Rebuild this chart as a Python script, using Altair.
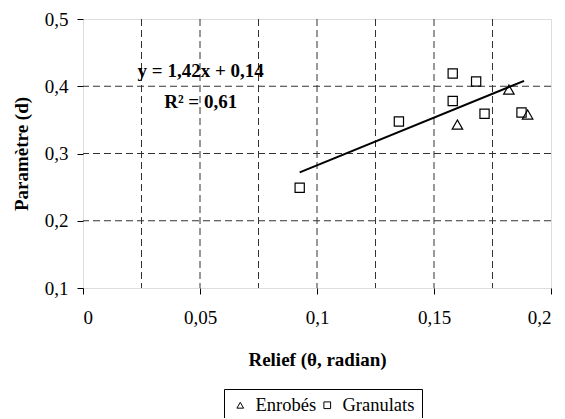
import altair as alt
import pandas as pd

# ---- data ----
series_names = ["Enrobés", "Granulats"]
enrobes_x = [0.160, 0.182, 0.190]
enrobes_y = [0.343, 0.395, 0.358]
gran_x = [0.0926, 0.135, 0.158, 0.158, 0.168, 0.1716, 0.1874]
gran_y = [0.249, 0.3475, 0.378, 0.419, 0.407, 0.359, 0.361]
trend_x = [0.0926, 0.1885]
trend_y = [0.272, 0.408]
grid_x = [0.025, 0.05, 0.075, 0.1, 0.125, 0.15, 0.175]
grid_y = [0.2, 0.3, 0.4]
x_ticks = [0, 0.05, 0.1, 0.15, 0.2]
y_ticks = [0.1, 0.2, 0.3, 0.4, 0.5]
eq_lines = ["y = 1,42x + 0,14", "R² = 0,61"]
eq_x = [0.0503, 0.0503]
eq_y = [0.4227, 0.377]

FONT = "'Liberation Serif', 'Times New Roman', 'DejaVu Serif', serif"

enr = pd.DataFrame({"x": enrobes_x, "y": enrobes_y, "serie": series_names[0]})
gra = pd.DataFrame({"x": gran_x, "y": gran_y, "serie": series_names[1]})
trend = pd.DataFrame({"x": trend_x, "y": trend_y})
gx = pd.DataFrame({"x": grid_x})
gy = pd.DataFrame({"y": grid_y})
eq = pd.DataFrame({"x": eq_x, "y": eq_y, "t": eq_lines})

xscale = alt.Scale(domain=[0, 0.2], nice=False, zero=False)
yscale = alt.Scale(domain=[0.1, 0.5], nice=False, zero=False)

xaxis = alt.Axis(
    values=x_ticks, title="Relief (θ, radian)", grid=False, domain=False,
    labelExpr="replace(format(datum.value, ''), '.', ',')",
    tickColor="black", tickSize=6, tickWidth=1,
    labelFont=FONT, labelFontSize=19, labelColor="black", labelPadding=14,
    titleFont=FONT, titleFontSize=19, titleFontWeight="bold", titleColor="black",
    titleX=234, titleY=71, titleBaseline="middle", titleAlign="center",
)
yaxis = alt.Axis(
    values=y_ticks, title="Paramètre (d)", grid=False, domain=False,
    labelExpr="replace(format(datum.value, ''), '.', ',')",
    tickColor="black", tickSize=6, tickWidth=1,
    labelFont=FONT, labelFontSize=19, labelColor="black", labelPadding=9,
    titleFont=FONT, titleFontSize=19, titleFontWeight="bold", titleColor="black",
    titleX=-62, titleY=134.5, titleAngle=270, titleBaseline="middle", titleAlign="center",
)

X = alt.X("x:Q", scale=xscale, axis=xaxis)
Y = alt.Y("y:Q", scale=yscale, axis=yaxis)

shape_enc = alt.Shape(
    "serie:N",
    scale=alt.Scale(domain=series_names, range=["triangle-up", "square"]),
    legend=alt.Legend(
        title=None, orient="none", direction="horizontal",
        legendX=141, legendY=370, gridAlign="none",
        strokeColor="black", padding=7, fillColor="white",
        labelFont=FONT, labelFontSize=18.5, labelColor="black",
        symbolSize=45, symbolStrokeColor="black", symbolStrokeWidth=1,
        symbolFillColor="transparent", labelOffset=6, columnPadding=1,
    ),
)

vgrid = alt.Chart(gx).mark_rule(color="#333333", strokeWidth=1, strokeDash=[7, 4]).encode(x=X)
hgrid = alt.Chart(gy).mark_rule(color="#333333", strokeWidth=1, strokeDash=[7, 4]).encode(y=Y)

line = alt.Chart(trend).mark_line(color="black", strokeWidth=2).encode(x=X, y=Y)

pts_gra = alt.Chart(gra).mark_point(filled=False, color="black", size=85, strokeWidth=1.2, opacity=1).encode(
    x=X, y=Y, shape=shape_enc)
pts_enr = alt.Chart(enr).mark_point(filled=False, color="black", size=110, strokeWidth=1.2, opacity=1).encode(
    x=X, y=Y, shape=shape_enc)

text = alt.Chart(eq).mark_text(font=FONT, fontSize=19, fontWeight="bold", color="black",
                               align="center", baseline="middle").encode(x=X, y=Y, text="t:N")

chart = alt.layer(vgrid, hgrid, line, pts_gra, pts_enr, text).properties(
    width=468, height=269,
    autosize=alt.AutoSizeParams(type="none"),
    padding={"left": 75, "top": 11, "right": 6, "bottom": 130},
).configure_view(stroke="black", strokeWidth=2).configure(background="white")

chart.save("out.html", embed_options={"renderer": "svg", "actions": False})
